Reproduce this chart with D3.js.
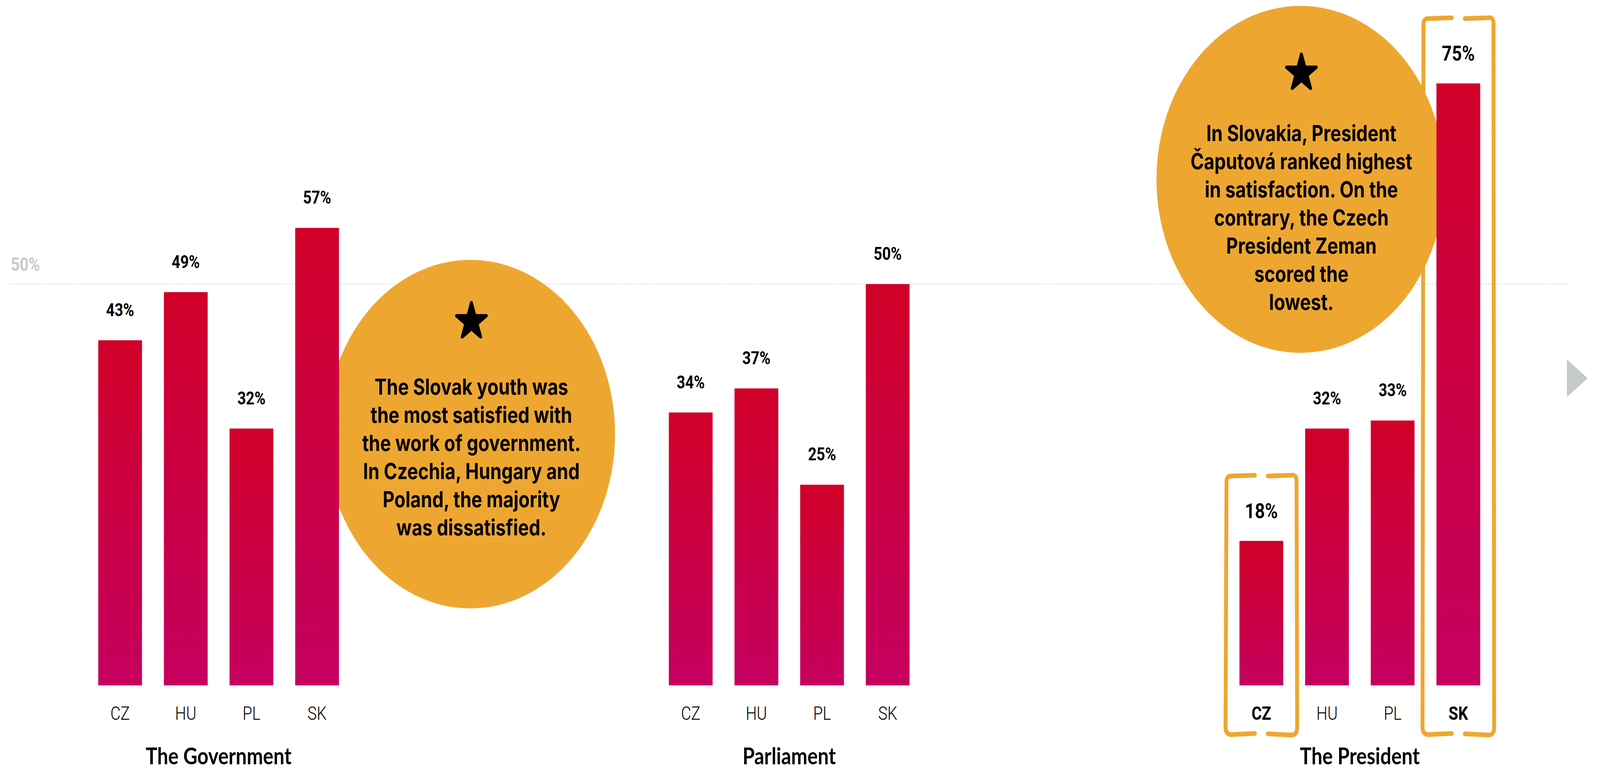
<!DOCTYPE html>
<html>
<head>
<meta charset="utf-8">
<script src="https://cdn.jsdelivr.net/npm/d3@7"></script>
<style>
  html, body { margin: 0; padding: 0; background: #fff; overflow: hidden; }
  svg { display: block; width: 100vw; height: 100vh; }
</style>
</head>
<body>
<svg id="chart" viewBox="0 0 4935 1968" preserveAspectRatio="none"></svg>
<script>
// data
const groups = ["The Government", "Parliament", "The President"];
const countries = ["CZ", "HU", "PL", "SK"];
const govValues = [43, 49, 32, 57];
const parlValues = [34, 37, 25, 50];
const presValues = [18, 32, 33, 75];
const refValue = 50;
const refLabel = "50%";

// highlighted bars (bracketed) in the president group
const highlight = [{ group: "The President", country: "CZ" }, { group: "The President", country: "SK" }];

const noteGov = [
  "The Slovak youth was",
  "the most satisfied with",
  "the work of government.",
  "In Czechia, Hungary and",
  "Poland, the majority",
  "was dissatisfied."
];
const notePres = [
  "In Slovakia, President",
  "Čaputová ranked highest",
  "in satisfaction. On the",
  "contrary, the Czech",
  "President Zeman",
  "scored the",
  "lowest."
];

const data = [];
[govValues, parlValues, presValues].forEach((vals, gi) => {
  vals.forEach((v, ci) => {
    data.push({ group: groups[gi], country: countries[ci], value: v });
  });
});

const svg = d3.select("#chart");

const orange = "#eda731";
const grey = "#c5c9ca";

// scales
const xGroup = d3.scaleBand().domain(groups).range([269.25, 269.25 + 3 * 1760]);
const xInner = d3.scaleBand().domain(countries).range([0, 810]).paddingInner(1 / 3).paddingOuter(1 / 6);
const y = d3.scaleLinear().domain([0, 50]).range([1754, 727]);

const barX = (d) => xGroup(d.group) + xInner(d.country);
const isHi = (d) => highlight.some((h) => h.group == d.group && h.country == d.country);

// gradient
const defs = svg.append("defs");
const grad = defs.append("linearGradient").attr("id", "barGrad")
  .attr("x1", 0).attr("y1", 0).attr("x2", 0).attr("y2", 1);
grad.append("stop").attr("offset", "0%").attr("stop-color", "#d00028");
grad.append("stop").attr("offset", "100%").attr("stop-color", "#c5005f");

// 50% reference line
svg.append("line")
  .attr("x1", 33).attr("x2", 4837)
  .attr("y1", y(refValue)).attr("y2", y(refValue))
  .attr("stroke", grey).attr("stroke-width", 3)
  .attr("stroke-linecap", "round")
  .attr("stroke-dasharray", "0 8.2");
svg.append("text")
  .attr("x", 33).attr("y", y(refValue) - 34)
  .attr("font-family", "Roboto, sans-serif").attr("font-weight", 700)
  .attr("font-size", 48).attr("fill", "#c8cacb")
  .text(refLabel);

// annotation circles (behind bars)
const notes = [
  { group: "The Government", cx: 1451, cy: 1111, r: 446, lines: noteGov, starY: 823, textY: 1010 },
  { group: "The President", cx: 4011, cy: 459, r: 444, lines: notePres, starY: 187, textY: 361 }
];
const noteG = svg.append("g").selectAll("g").data(notes).join("g");
noteG.append("circle")
  .attr("cx", (d) => d.cx).attr("cy", (d) => d.cy).attr("r", (d) => d.r)
  .attr("fill", orange);
noteG.append("path")
  .attr("d", d3.symbol(d3.symbolStar, 2600)())
  .attr("transform", (d) => `translate(${d.cx + 3},${d.starY})`)
  .attr("fill", "#000").attr("stroke", "#000")
  .attr("stroke-width", 9).attr("stroke-linejoin", "round");
noteG.each(function (d) {
  d3.select(this).append("text")
    .attr("text-anchor", "middle")
    .attr("font-family", "Inter, sans-serif").attr("font-weight", 700)
    .attr("font-size", 56).attr("fill", "#000")
    .selectAll("tspan").data(d.lines).join("tspan")
    .attr("x", d.cx + 3)
    .attr("y", (l, i) => d.textY + i * 72)
    .text((l) => l);
});

// bars
svg.append("g").selectAll("rect").data(data).join("rect")
  .attr("x", barX)
  .attr("y", (d) => y(d.value))
  .attr("width", xInner.bandwidth())
  .attr("height", (d) => y(0) - y(d.value))
  .attr("fill", "url(#barGrad)");

// value labels
svg.append("g").selectAll("text").data(data).join("text")
  .attr("x", (d) => barX(d) + xInner.bandwidth() / 2)
  .attr("y", (d) => y(d.value) - (isHi(d) ? 58 : 62))
  .attr("text-anchor", "middle")
  .attr("font-family", "Roboto, sans-serif").attr("font-weight", 700)
  .attr("font-size", (d) => (isHi(d) ? 54 : 46))
  .text((d) => d.value + "%");

// country labels
svg.append("g").selectAll("text").data(data).join("text")
  .attr("x", (d) => barX(d) + xInner.bandwidth() / 2)
  .attr("y", 1842)
  .attr("text-anchor", "middle")
  .attr("font-family", "Roboto, sans-serif")
  .attr("font-weight", (d) => (isHi(d) ? 700 : 300))
  .attr("font-size", 48)
  .text((d) => d.country);

// group titles
svg.append("g").selectAll("text").data(groups).join("text")
  .attr("x", (g) => xGroup(g) + 405)
  .attr("y", 1956)
  .attr("text-anchor", "middle")
  .attr("font-family", "Lato, sans-serif").attr("font-weight", 700)
  .attr("font-size", 60)
  .text((g) => g);

// hand-drawn brackets around highlighted bars
function bracket(x0, x1, y0, y1, gap) {
  const cx = (x0 + x1) / 2, r = 16;
  const p = d3.path();
  p.moveTo(cx - gap / 2, y0 + 2);
  p.lineTo(x0 + r, y0 + 4);
  p.quadraticCurveTo(x0, y0 + 4, x0 + 1, y0 + r + 4);
  p.lineTo(x0 - 2, y1 - r);
  p.quadraticCurveTo(x0, y1, x0 + r, y1);
  p.lineTo(cx - gap / 2, y1 - 3);
  p.moveTo(cx + gap / 2, y0 + 4);
  p.lineTo(x1 - r, y0 + 2);
  p.quadraticCurveTo(x1, y0, x1, y0 + r);
  p.lineTo(x1 + 2, y1 - r);
  p.quadraticCurveTo(x1, y1 + 2, x1 - r, y1 + 1);
  p.lineTo(cx + gap / 2, y1 - 2);
  return p.toString();
}
const hiData = data.filter(isHi);
svg.append("g").selectAll("path").data(hiData).join("path")
  .attr("d", (d) => {
    const x0 = barX(d) - 41, x1 = barX(d) + xInner.bandwidth() + 41;
    const top = Math.max(25, y(d.value) - 170);
    return bracket(x0, x1, top, 1880, 40);
  })
  .attr("fill", "none").attr("stroke", orange)
  .attr("stroke-width", 12).attr("stroke-linecap", "round").attr("stroke-linejoin", "round");

// next arrow
svg.append("path")
  .attr("d", d3.line()([[4833, 920], [4897, 968], [4833, 1016]]) + "Z")
  .attr("fill", grey);
</script>
</body>
</html>
